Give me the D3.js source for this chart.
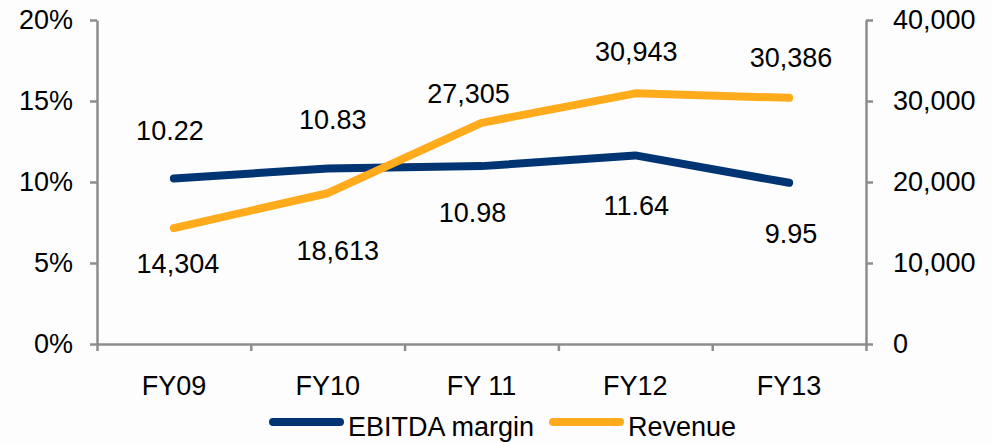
<!DOCTYPE html>
<html>
<head>
<meta charset="utf-8">
<script src="https://cdn.jsdelivr.net/npm/d3@7"></script>
<style>
  body { margin: 0; background: #fdfdfe; }
  svg { display: block; font-family: "Liberation Sans", Arial, sans-serif; }
  .axis path, .axis line { stroke: #8c8c8c; stroke-width: 2.5; }
  .axis text { font-size: 27px; fill: #000; }
</style>
</head>
<body>
<div id="chart"></div>
<script>
// chart data
var categories = ['FY09', 'FY10', 'FY 11', 'FY12', 'FY13'];
var ebitdaMargin = [10.22, 10.83, 10.98, 11.64, 9.95];
var revenue = [14304, 18613, 27305, 30943, 30386];
var leftTicks = [0, 5, 10, 15, 20];
var rightTicks = [0, 10000, 20000, 30000, 40000];

// label placement (dx, dy from point, in px)
var ebitdaLabelOffset = [[-4, -38], [5, -40], [-9, 56], [1, 60], [2, 60]];
var revenueLabelOffset = [[4, 45], [10, 67], [-13, -20], [1, -32], [2, -31]];

var width = 992, height = 443;
var margin = { top: 20, right: 126, bottom: 99, left: 97 };

var svg = d3.select('#chart').append('svg')
        .attr('width', width)
        .attr('height', height);

var plotW = width - margin.left - margin.right;
var plotH = height - margin.top - margin.bottom;

var g = svg.append('g').attr('transform', 'translate(' + margin.left + ',' + margin.top + ')');

var xscale = d3.scaleBand().domain(categories).range([0, plotW]);
var xbound = d3.scaleLinear().domain([0, categories.length]).range([0, plotW]);
var yleft = d3.scaleLinear().domain([0, 20]).range([plotH, 0]);
var yright = d3.scaleLinear().domain([0, 40000]).range([plotH, 0]);

function cx(i) { return xscale(categories[i]) + xscale.bandwidth() / 2; }

// axes
g.append('g')
        .attr('class', 'axis')
        .call(d3.axisLeft(yleft).tickValues(leftTicks).tickSize(7).tickSizeOuter(0).tickPadding(17)
                .tickFormat(function (d) { return d + '%'; }));

g.append('g')
        .attr('class', 'axis')
        .attr('transform', 'translate(' + plotW + ',0)')
        .call(d3.axisRight(yright).tickValues(rightTicks).tickSize(7).tickSizeOuter(0).tickPadding(20)
                .tickFormat(d3.format(',')));

g.append('g')
        .attr('class', 'axis')
        .attr('transform', 'translate(0,' + plotH + ')')
        .call(d3.axisBottom(xbound).ticks(categories.length).tickSize(7).tickSizeOuter(0).tickFormat(''));

var xlab = g.append('g')
        .attr('class', 'axis')
        .attr('transform', 'translate(0,' + plotH + ')')
        .call(d3.axisBottom(xscale).tickSize(0).tickPadding(32));
xlab.select('.domain').remove();

g.selectAll('.axis text').attr('fill', '#000');

// lines
var lineEbitda = d3.line()
        .x(function (d, i) { return cx(i); })
        .y(function (d) { return yleft(d); });
var lineRevenue = d3.line()
        .x(function (d, i) { return cx(i); })
        .y(function (d) { return yright(d); });

g.append('path')
        .datum(ebitdaMargin)
        .attr('fill', 'none')
        .attr('stroke', '#013473')
        .attr('stroke-width', 8)
        .attr('stroke-linecap', 'round')
        .attr('stroke-linejoin', 'round')
        .attr('d', lineEbitda);

g.append('path')
        .datum(revenue)
        .attr('fill', 'none')
        .attr('stroke', '#ffab1c')
        .attr('stroke-width', 8)
        .attr('stroke-linecap', 'round')
        .attr('stroke-linejoin', 'round')
        .attr('d', lineRevenue);

// data labels
g.selectAll('.lblE')
        .data(ebitdaMargin)
        .enter().append('text')
        .attr('class', 'lblE')
        .attr('x', function (d, i) { return cx(i) + ebitdaLabelOffset[i][0]; })
        .attr('y', function (d, i) { return yleft(d) + ebitdaLabelOffset[i][1]; })
        .attr('text-anchor', 'middle')
        .attr('font-size', '27px')
        .text(function (d) { return d3.format('.2f')(d); });

g.selectAll('.lblR')
        .data(revenue)
        .enter().append('text')
        .attr('class', 'lblR')
        .attr('x', function (d, i) { return cx(i) + revenueLabelOffset[i][0]; })
        .attr('y', function (d, i) { return yright(d) + revenueLabelOffset[i][1]; })
        .attr('text-anchor', 'middle')
        .attr('font-size', '27px')
        .text(function (d) { return d3.format(',')(d); });

// legend
var legendItems = [
        { name: 'EBITDA margin', color: '#013473', x: 273 },
        { name: 'Revenue', color: '#ffab1c', x: 553 }
];
var legend = svg.append('g');
legendItems.forEach(function (item) {
        legend.append('line')
                .attr('x1', item.x).attr('x2', item.x + 67)
                .attr('y1', 422).attr('y2', 422)
                .attr('stroke', item.color)
                .attr('stroke-width', 8)
                .attr('stroke-linecap', 'round');
        legend.append('text')
                .attr('x', item.x + 75)
                .attr('y', 436)
                .attr('font-size', '27px')
                .text(item.name);
});
</script>
</body>
</html>
